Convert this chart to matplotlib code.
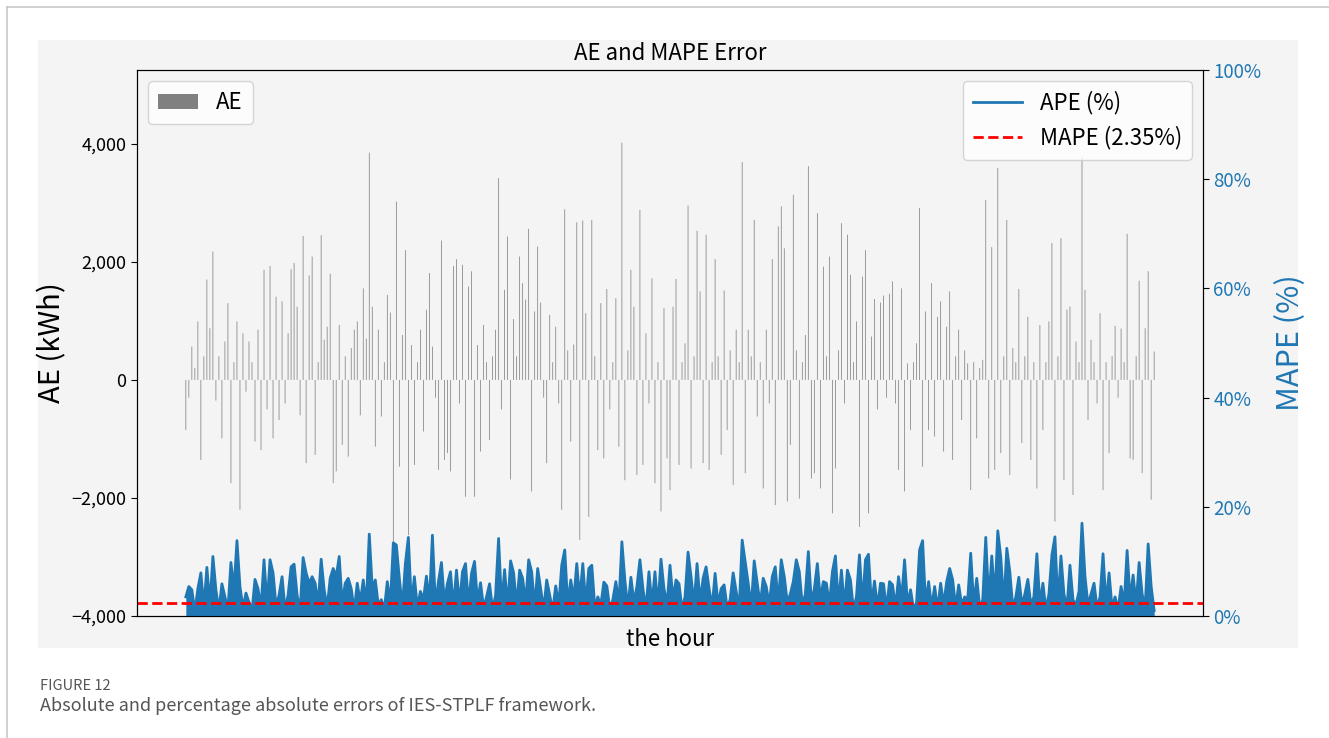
import matplotlib.pyplot as plt
import matplotlib.ticker as mticker
from matplotlib.lines import Line2D
import numpy as np

plt.rcParams['font.family'] = ['Noto Sans CJK SC', 'DejaVu Sans']

# hourly absolute error (kWh)
ae_kwh = [
    -850, -300, 565, 200, 990, -1356, 400, 1700, 875, 2175, -350, 400, -990, 650, 1300, -1750,
    300, 990, -2200, 790, -200, 650, 300, -1045, 850, -1190, 1865, -500, 1930, -990, 1410, -680,
    1330, -400, 790, 1875, 1980, 1240, -600, 2440, -1410, 1770, 2090, -1270, 300, 2450, 680, 900,
    1800, -1750, -1550, 930, -1100, 400, -1300, 540, 850, 990, -600, 1550, 700, 3850, 1240, -1130, 850,
    -620, 300, 1440, 1140, -2770, 3020, -1470, 760, 2200, -2630, 590, -1440, 300, 850, -875, 1190,
    1810, 565, -300, -1525, 2360, -1356, -1240, -1550, 1930, 2045, -400, 1950, -1980, 1580, 1840, -1980,
    590, -1215, 930, 300, -1020, 400, 850, 3420, -500, 1525, 2430, -1685, 1030, 400, 2090, 1640,
    1360, 2560, -1890, 1160, 2260, 1310, -300, -1410, 1100, 300, 900, -400, -2200, 2890, 500, -1045, 600,
    2670, -2710, 2700, 1130, -2320, 2710, 400, -1190, 1300, -1330, 1540, -500, 300, 1385, -1130, 4020,
    -1700, 500, 1865, 1240, -1610, 2880, -1440, 790, -400, 1720, -1750, 300, -2230, 1215, -1330, -1865,
    1240, 1710, -1440, 300, 620, 2955, -1500, 400, 2525, 1500, -1410, 2460, -1525, 300, 2045, 400,
    -1270, 1515, -850, 500, -1780, 850, 300, 3690, -1580, 850, 400, 2710, -620, 300, -1840, 850, -400,
    2045, -2120, 2600, 2940, 2230, -2060, -1100, 3135, 500, -2010, 300, 760, 3620, -1670, -1580, 2825,
    -1840, 1920, 400, 2090, -2260, -1500, 500, 2655, -400, 2460, 1780, 300, 990, -2490, 1750, 2200,
    -2260, 735, 1370, -500, 1310, 1430, -300, 1460, 1670, -400, -1525, 1550, -1890, 280, -850, 300,
    620, 2910, -1470, 1160, -850, 1640, -960, 1070, 1330, -1215, 900, 1500, -1356, 400, 850, -680, 500,
    280, -1865, 300, -990, 200, 340, 3050, -1670, 2250, -1525, 3590, -1240, 400, 2710, -1610, 540,
    300, 1540, -1070, 400, 1070, -1356, 300, -1840, 930, -850, 300, 990, 2320, -2400, 400, 2400,
    -1700, 1190, 1240, -1950, 650, 300, 3770, 1525, -680, 680, 300, -400, 1130, -1865, 300, -1240,
    400, 915, -300, 870, 300, 2475, -1330, -1356, 400, 1680, -1580, 875, 1840, -2030, 480,
]

# hourly absolute percentage error (%)
ape_pct = [
    3.5, 5.4, 4.8, 0.8, 5.0, 7.9, 1.5, 8.9, 2.0, 10.9, 4.8, 1.0, 5.9, 3.5, 1.2, 9.8,
    4.8, 13.8, 5.4, 1.5, 4.2, 2.5, 0.8, 6.7, 5.0, 1.5, 10.3, 2.0, 10.3, 7.9, 1.8, 3.8,
    7.2, 1.2, 3.8, 9.0, 9.5, 3.8, 1.0, 10.7, 7.9, 6.0, 7.2, 6.0, 2.0, 10.4, 4.8, 1.5,
    6.9, 8.7, 7.2, 10.9, 2.2, 6.0, 6.9, 5.0, 1.0, 6.0, 2.5, 6.6, 1.8, 15.0, 5.0, 6.6, 2.0,
    3.0, 1.2, 6.3, 2.0, 13.4, 13.0, 6.9, 1.5, 9.6, 14.4, 2.0, 7.2, 1.5, 4.5, 3.0, 7.3,
    2.5, 14.8, 1.8, 6.3, 9.8, 2.5, 6.0, 8.1, 1.5, 8.4, 2.0, 8.1, 9.6, 2.0, 7.8, 10.0,
    2.5, 6.1, 1.5, 3.5, 5.9, 1.2, 3.8, 14.2, 2.0, 8.5, 1.5, 10.1, 7.9, 1.8, 8.4, 6.9,
    2.2, 10.3, 8.1, 1.5, 8.7, 5.0, 1.2, 6.6, 3.8, 1.0, 5.5, 2.0, 9.3, 12.1, 2.0, 6.6, 3.0,
    9.6, 3.0, 9.6, 2.0, 8.7, 9.3, 1.5, 3.5, 2.0, 6.2, 5.5, 1.2, 3.0, 6.3, 2.0, 13.6,
    6.5, 1.5, 7.1, 2.5, 5.4, 10.3, 5.0, 1.2, 8.1, 2.0, 8.1, 1.5, 10.4, 5.0, 2.0, 9.3,
    3.0, 6.6, 5.9, 1.2, 3.5, 11.7, 7.2, 2.0, 9.6, 2.5, 6.9, 9.0, 5.0, 1.5, 7.8, 2.0,
    5.0, 5.7, 1.5, 3.0, 7.9, 4.5, 1.2, 13.9, 10.0, 6.0, 1.5, 10.1, 6.0, 2.0, 6.9, 5.4, 2.0,
    7.2, 9.0, 2.0, 10.3, 7.2, 2.5, 4.0, 6.3, 10.3, 8.1, 2.0, 4.0, 11.8, 2.5, 5.0, 9.6,
    3.0, 6.3, 6.0, 2.0, 8.1, 11.0, 2.0, 8.4, 1.5, 8.4, 6.6, 1.2, 3.5, 11.2, 2.0, 10.3,
    11.3, 2.0, 6.4, 1.5, 6.0, 5.9, 1.2, 6.3, 5.7, 1.5, 7.2, 3.0, 10.3, 2.0, 4.8, 1.2,
    2.5, 12.1, 13.8, 2.0, 6.3, 1.5, 5.4, 1.2, 6.0, 2.0, 6.3, 8.7, 6.6, 1.5, 5.7, 2.0, 3.5,
    3.0, 11.5, 2.0, 6.9, 1.5, 3.0, 14.4, 2.5, 11.0, 3.0, 15.6, 10.7, 2.0, 12.4, 8.1, 1.5,
    3.5, 7.1, 2.0, 4.0, 6.7, 2.0, 3.5, 11.4, 2.0, 6.0, 1.2, 4.0, 11.2, 14.5, 2.0, 11.0,
    4.0, 1.5, 9.3, 3.0, 2.0, 4.5, 17.0, 7.2, 2.0, 4.0, 6.0, 1.5, 3.5, 11.4, 2.0, 7.9,
    1.5, 3.5, 1.2, 5.4, 2.0, 12.0, 3.0, 7.5, 2.0, 9.8, 4.0, 1.5, 13.2, 5.4, 1.0,
]

mape = 2.35
ae_ticks = [-4000, -2000, 0, 2000, 4000]
ape_ticks = [0, 20, 40, 60, 80, 100]

hours = np.arange(len(ae_kwh))
blue = '#1f77b4'
panel = '#f4f4f4'

fig = plt.figure(figsize=(13.29, 7.38), dpi=100, facecolor='white')

# gray panel behind the chart, plus the page frame lines
fig.patches.append(plt.Rectangle((38 / 1329, 1 - 648 / 738), 1260 / 1329, 608 / 738,
                                 transform=fig.transFigure, facecolor=panel, edgecolor='none', zorder=-5))
fig.add_artist(Line2D([7 / 1329, 1], [1 - 7 / 738, 1 - 7 / 738], color='#c8c8c8', lw=1.2))
fig.add_artist(Line2D([7 / 1329, 7 / 1329], [0, 1 - 7 / 738], color='#c8c8c8', lw=1.2))

ax = fig.add_axes([137 / 1329, 1 - 616 / 738, 1066 / 1329, 546 / 738])
ax.set_facecolor(panel)
# thin bars, no pixel snapping so each one shows as a faint gray hairline
bars = ax.bar(hours, ae_kwh, width=0.25, color='gray', linewidth=0, label='AE')
for b in bars:
    b.set_snap(False)
ax.set_ylim(-4000, 5250)
ax.set_yticks(ae_ticks)
ax.yaxis.set_major_formatter(mticker.StrMethodFormatter('{x:,.0f}'))
ax.tick_params(axis='y', labelsize=13, length=4)
ax.set_xticks([])
ax.set_ylabel('AE (kWh)', fontsize=21, labelpad=3)
ax.set_xlabel('the hour', fontsize=16, labelpad=9)
ax.set_title('AE and MAPE Error', fontsize=16, pad=7)
ax.legend(loc='upper left', fontsize=16, handlelength=1.8, borderpad=0.45)

ax2 = ax.twinx()
# dense hourly line: the band under it reads as solid in the original
ax2.fill_between(hours, ape_pct, 0, color=blue, lw=0)
ax2.plot(hours, ape_pct, color=blue, lw=2, label='APE (%)')
ax2.axhline(mape, color='red', ls='--', lw=2, label='MAPE ({:.2f}%)'.format(mape))
ax2.set_ylim(0, 100)
ax2.set_yticks(ape_ticks)
ax2.yaxis.set_major_formatter(mticker.StrMethodFormatter('{x:.0f}%'))
ax2.tick_params(axis='y', labelsize=13.5, labelcolor=blue, length=4)
ax2.set_ylabel('MAPE (%)', fontsize=22, color=blue, labelpad=10)
ax2.legend(loc='upper right', fontsize=16, handlelength=2.2, borderpad=0.45)

fig.text(40 / 1329, 1 - 686 / 738, 'FIGURE 12', fontsize=10.5, color='#555555', va='center')
fig.text(40 / 1329, 1 - 706 / 738, 'Absolute and percentage absolute errors of IES-STPLF framework.',
         fontsize=13, color='#555555', va='center')

fig.savefig('out.png', dpi=100, facecolor='white')
